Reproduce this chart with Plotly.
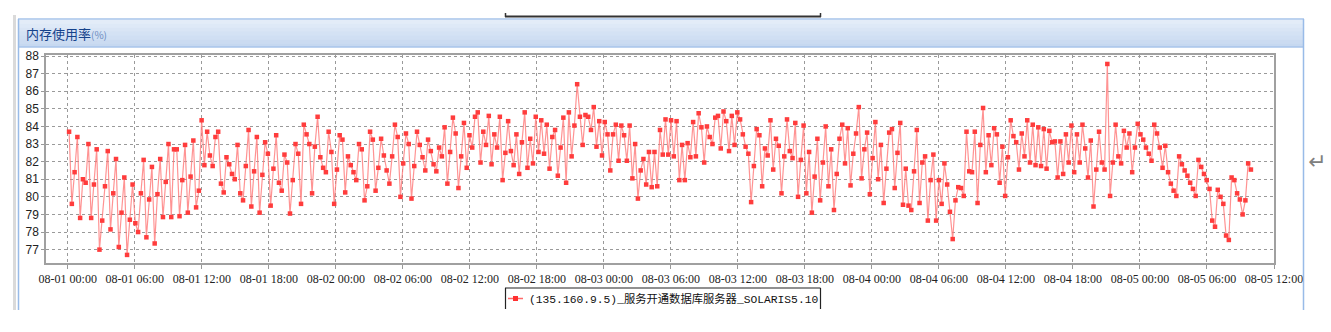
import plotly.graph_objects as go
import pandas as pd

# ---------------- data ----------------
chart_title = "内存使用率"
unit_label = "(%)"
series_name = "(135.160.9.5)_服务开通数据库服务器_SOLARIS5.10"
first_sample = "2013-08-01 00:07"
last_sample = "2013-08-05 09:56"
x_range = ["2013-07-31 22:03", "2013-08-05 12:00"]
y_range = [76.24, 88.06]
y_ticks = [77, 78, 79, 80, 81, 82, 83, 84, 85, 86, 87, 88]

memory_usage = [
    83.7, 79.6, 81.4, 83.4, 78.8, 81.0, 80.8, 83.0, 78.8, 80.7,
    82.7, 77.0, 78.65, 80.6, 82.6, 78.15, 80.2, 82.15, 77.15, 79.1,
    81.1, 76.7, 78.7, 80.7, 78.5, 78.0, 80.2, 82.1, 77.7, 79.85,
    81.7, 77.35, 80.15, 82.15, 78.85, 80.85, 83.0, 78.85, 82.7, 82.7,
    78.9, 80.95, 82.95, 79.1, 81.15, 83.2, 79.4, 80.35, 84.35, 81.8,
    83.7, 82.35, 81.75, 83.4, 83.7, 80.75, 80.25, 82.25, 81.85, 81.3,
    81.0, 82.95, 80.2, 79.8, 81.75, 83.8, 79.45, 81.45, 83.4, 79.1,
    81.25, 83.1, 82.45, 79.5, 81.6, 83.5, 80.8, 80.35, 82.4, 81.95,
    79.05, 80.95, 83.0, 82.45, 79.6, 84.1, 83.55, 83.0, 80.2, 82.85,
    84.55, 82.25, 81.65, 81.4, 83.7, 82.55, 79.6, 81.55, 83.5, 83.25,
    80.25, 82.3, 81.8, 81.4, 80.95, 83.0, 82.7, 79.8, 80.6, 83.7,
    83.25, 80.35, 81.65, 83.3, 82.35, 81.5, 80.75, 82.3, 84.1, 83.4,
    80.0, 81.9, 83.6, 83.0, 79.9, 81.75, 83.7, 82.95, 82.25, 81.5,
    83.25, 82.6, 81.85, 81.45, 82.8, 82.3, 83.95, 80.75, 82.55, 84.5,
    83.6, 80.5, 82.3, 84.2, 81.65, 83.5, 82.8, 84.55, 84.8, 81.95,
    83.7, 82.95, 84.6, 81.85, 83.55, 82.8, 84.55, 80.95, 82.5, 84.3,
    82.6, 81.8, 83.55, 81.3, 83.1, 84.8, 81.65, 83.3, 81.9, 84.55,
    82.55, 84.35, 82.45, 84.1, 81.6, 83.4, 83.8, 81.2, 82.8, 84.5,
    80.8, 84.8, 82.3, 84.05, 86.4, 84.55, 82.95, 84.65, 84.55, 83.8,
    85.1, 82.85, 84.3, 82.35, 84.25, 83.55, 81.5, 83.55, 84.1, 82.05,
    84.05, 83.5, 82.05, 84.05, 81.05, 83.0, 79.9, 81.5, 82.15, 80.7,
    82.55, 80.55, 82.55, 80.6, 83.8, 82.4, 84.4, 82.4, 84.35, 82.3,
    84.3, 80.95, 82.95, 80.95, 83.05, 82.25, 84.25, 82.3, 84.75, 83.95,
    81.95, 84.0, 83.4, 83.0, 84.5, 84.6, 82.75, 84.85, 84.3, 82.6,
    84.6, 82.95, 84.8, 84.4, 83.55, 82.85, 82.45, 79.7, 81.75, 83.85,
    83.5, 80.6, 82.75, 82.35, 84.35, 81.55, 83.3, 82.9, 80.2, 82.3,
    84.4, 82.6, 82.2, 84.2, 80.0, 82.1, 84.05, 80.2, 82.55, 79.1,
    81.15, 83.3, 79.8, 81.95, 84.0, 80.6, 82.7, 79.25, 81.3, 83.3,
    84.1, 81.9, 83.9, 80.65, 82.45, 83.6, 85.1, 81.05, 82.7, 83.65,
    80.15, 82.2, 84.25, 81.0, 82.95, 79.65, 81.6, 83.65, 83.85, 80.5,
    82.5, 84.2, 79.55, 81.6, 79.5, 79.25, 81.45, 83.8, 79.65, 81.95,
    82.3, 78.65, 80.95, 82.4, 78.65, 80.95, 79.6, 81.9, 80.7, 79.15,
    77.6, 79.8, 80.55, 80.5, 80.05, 83.7, 81.45, 81.4, 83.7, 79.65,
    82.95, 85.05, 81.4, 83.5, 81.8, 83.9, 83.55, 80.8, 82.85, 80.05,
    82.25, 84.35, 83.45, 83.1, 81.55, 83.6, 82.3, 84.35, 81.95, 84.1,
    81.8, 83.95, 81.75, 83.85, 81.6, 83.75, 83.1, 83.15, 81.1, 83.15,
    81.3, 83.55, 81.95, 84.05, 81.4, 83.55, 81.95, 84.1, 82.75, 81.1,
    83.2, 79.45, 81.55, 83.7, 81.95, 81.55, 87.55, 80.05, 81.95, 84.1,
    82.3, 81.9, 83.75, 82.8, 83.6, 81.4, 82.8, 84.15, 83.55, 83.25,
    82.8, 82.45, 82.05, 84.1, 83.6, 82.8, 81.65, 82.9, 81.4, 80.75,
    80.35, 80.05, 82.3, 81.85, 81.5, 81.2, 80.8, 80.45, 80.05, 82.1,
    81.7, 81.3, 80.95, 80.45, 78.65, 78.3, 80.4, 80.0, 79.6, 77.8,
    77.55, 81.1, 80.95, 80.2, 79.85, 79.0, 79.8, 81.9, 81.55,
]

sample_times = pd.date_range(first_sample, last_sample, periods=len(memory_usage))

# ---------------- layout helpers ----------------
W, H = 1331, 332
ML, MR, MT, MB = 46, 57, 55, 69
PW, PH = W - ML - MR, H - MT - MB


def px(x):
    return (x - ML) / PW


def py(y):
    return (H - MB - y) / PH


fig = go.Figure()
fig.add_trace(go.Scatter(
    x=sample_times, y=memory_usage, mode="lines+markers",
    name=series_name, showlegend=False,
    line=dict(color="rgba(255,120,120,0.8)", width=1.2),
    marker=dict(symbol="square", size=4.5, color="#ff3c3c",
                line=dict(width=0)),
))

shapes = []


def line(x0, y0, x1, y1, color, width=1):
    shapes.append(dict(type="line", xref="paper", yref="paper",
                       x0=px(x0), y0=py(y0), x1=px(x1), y1=py(y1),
                       line=dict(color=color, width=width)))


def rect(x0, y0, x1, y1, color):
    shapes.append(dict(type="rect", xref="paper", yref="paper",
                       x0=px(x0), y0=py(y0), x1=px(x1), y1=py(y1),
                       fillcolor=color, line=dict(width=0), layer="below"))


# previous panel legend box bottom (top of screenshot)
line(505, 16.5, 821, 16.5, "#333", 2)
line(505.5, 13, 505.5, 17, "#333", 1.5)
line(820.5, 13, 820.5, 17, "#333", 1.5)

# panel header gradient
c0, c1 = (227, 236, 248), (198, 216, 240)
n = 7
for i in range(n):
    t = i / (n - 1)
    c = tuple(int(round(a + (b - a) * t)) for a, b in zip(c0, c1))
    rect(19, 20 + i * 27 / n, 1304, 20 + (i + 1) * 27 / n + 0.5, "rgb(%d,%d,%d)" % c)
line(18, 19, 1304, 19, "#a6c3ea", 1.5)
line(18, 47, 1304, 47, "#99bbe8", 1)

# panel borders
rect(13, 15, 16, 310, "#dadada")
line(18.5, 19, 18.5, 310, "#99bbe8", 1.5)
line(1303.5, 19, 1303.5, 310, "#99bbe8", 1.5)

# legend (manual)
line(505.5, 309, 505.5, 288, "#222", 1.2)
line(505, 288, 820.5, 288, "#222", 1.2)
line(820.5, 288, 820.5, 309, "#222", 1.2)
line(508, 298.5, 523, 298.5, "#ff6a6a", 1.5)
shapes.append(dict(type="rect", xref="paper", yref="paper",
                   x0=px(513), y0=py(301), x1=px(518), y1=py(296),
                   fillcolor="#ff3030", line=dict(width=0)))

annotations = [
    dict(xref="paper", yref="paper", x=px(24), y=py(34), xanchor="left", yanchor="middle",
         text=chart_title + "<span style='font-size:10px;color:#6d8dbf'>" + unit_label + "</span>",
         showarrow=False, font=dict(family="Noto Sans CJK SC", size=13, color="#15428b")),
    dict(xref="paper", yref="paper", x=px(527), y=py(298.5), xanchor="left", yanchor="middle",
         text=series_name, showarrow=False,
         font=dict(family="Liberation Mono, Noto Sans CJK SC", size=11.3, color="#111")),
    dict(xref="paper", yref="paper", x=px(1317), y=py(161), xanchor="center", yanchor="middle",
         text="↵", showarrow=False, font=dict(family="DejaVu Sans", size=22, color="#808080")),
]

fig.update_layout(
    width=W, height=H, margin=dict(l=ML, r=MR, t=MT, b=MB, pad=0),
    paper_bgcolor="white", plot_bgcolor="white",
    shapes=shapes, annotations=annotations, showlegend=False,
    xaxis=dict(
        type="date", range=x_range, dtick=6 * 3600 * 1000,
        tick0="2013-08-01 00:00", tickformat="%m-%d %H:%M",
        showgrid=True, gridcolor="#9a9a9a", griddash="dot", gridwidth=1,
        ticks="outside", ticklen=4, tickcolor="#999",
        showline=True, linecolor="#a0a0a0", linewidth=1.5, mirror=True,
        tickfont=dict(family="Liberation Sans Narrow", size=12, color="#222"),
        zeroline=False,
    ),
    yaxis=dict(
        range=y_range, tickvals=y_ticks,
        showgrid=True, gridcolor="#9a9a9a", griddash="dot", gridwidth=1,
        ticks="outside", ticklen=3, tickcolor="#999",
        showline=True, linecolor="#a0a0a0", linewidth=1.5, mirror=True,
        tickfont=dict(family="Liberation Sans", size=12, color="#222"),
        zeroline=False,
    ),
)

fig.write_html("out.html")
